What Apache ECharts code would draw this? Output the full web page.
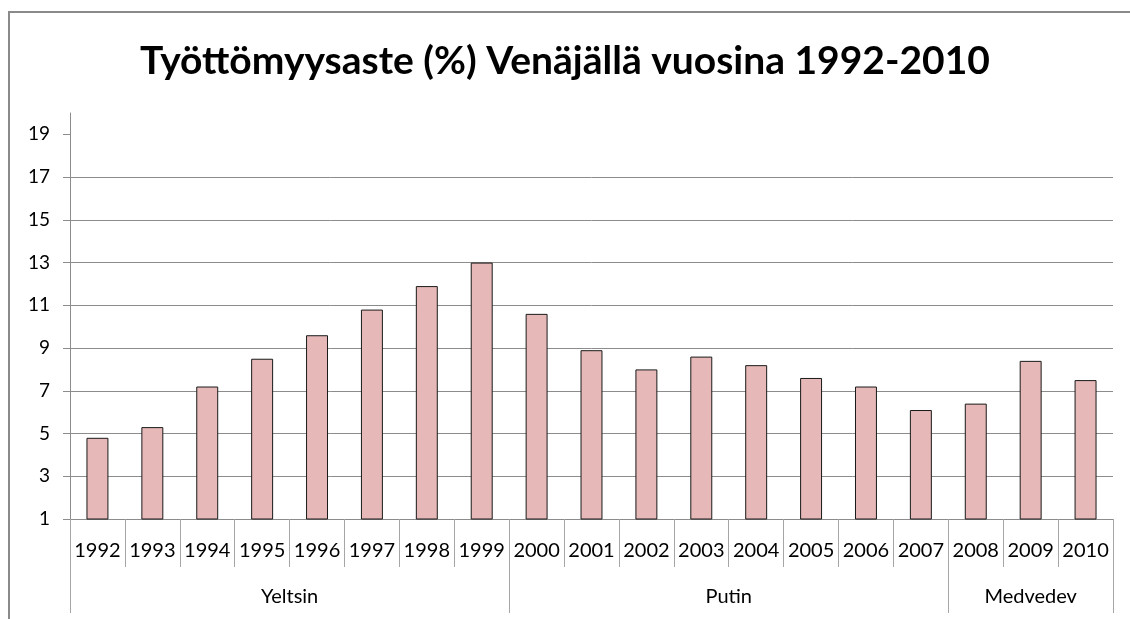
<!DOCTYPE html>
<html>
<head>
<meta charset="utf-8">
<script src="https://cdn.jsdelivr.net/npm/echarts@6/dist/echarts.min.js"></script>
<style>
  html, body { margin: 0; padding: 0; background: #fff; }
  #broken { width: 1130px; height: 619px; }
</style>
</head>
<body>
<div id="broken"></div>
<script>
  // vuodet ja työttömyysaste (%)
  var years = ['1992', '1993', '1994', '1995', '1996', '1997', '1998', '1999', '2000', '2001',
    '2002', '2003', '2004', '2005', '2006', '2007', '2008', '2009', '2010']
  var rates = [4.8, 5.3, 7.2, 8.5, 9.6, 10.8, 11.9, 13.0, 10.6, 8.9,
    8.0, 8.6, 8.2, 7.6, 7.2, 6.1, 6.4, 8.4, 7.5]
  // presidenttikaudet
  var groupNames = ['Yeltsin', 'Putin', 'Medvedev']
  var groupSizes = [8, 8, 3]
  var yTicks = [1, 3, 5, 7, 9, 11, 13, 15, 17, 19]

  // ryhmien rajat ja keskikohdat
  var bounds = [0]
  var centers = []
  groupSizes.forEach(function(n, i) {
    centers.push(bounds[i] + n / 2)
    bounds.push(bounds[i] + n)
  })

  var font = 'Lato'
  var broken = echarts.init(document.getElementById('broken'))
  var option = {
    animation: false,
    title: {
      text: 'Työttömyysaste (%) Venäjällä vuosina 1992-2010',
      left: 'center',
      top: 37,
      textStyle: {
        color: '#000',
        fontSize: 39,
        fontWeight: 'bold',
        fontFamily: font
      }
    },
    graphic: [
      {
        type: 'rect',
        shape: { x: 9, y: 12, width: 1200, height: 700 },
        style: { fill: 'none', stroke: '#8a8a8a', lineWidth: 2 },
        silent: true
      }
    ],
    grid: {
      left: 70,
      right: 17,
      top: 113,
      bottom: 100
    },
    xAxis: [
      {
        type: 'category',
        data: years,
        position: 'bottom',
        axisLine: { lineStyle: { color: '#8c8c8c' } },
        axisTick: { show: true, interval: 0, length: 48, lineStyle: { color: '#a6a6a6' } },
        axisLabel: {
          interval: 0,
          color: '#000',
          fontSize: 20,
          fontFamily: font,
          margin: 22
        },
        splitLine: { show: false }
      },
      {
        type: 'value',
        min: 0,
        max: years.length,
        position: 'bottom',
        axisLine: { show: false },
        axisTick: {
          show: true,
          length: 94,
          customValues: bounds,
          lineStyle: { color: '#a6a6a6' }
        },
        axisLabel: {
          show: true,
          customValues: centers,
          color: '#000',
          fontSize: 20,
          fontFamily: font,
          margin: 68,
          formatter: function(v) {
            var i = centers.indexOf(v)
            return i >= 0 ? groupNames[i] : ''
          }
        },
        splitLine: { show: false }
      }
    ],
    yAxis: {
      type: 'value',
      min: 1,
      max: 20,
      interval: 2,
      axisLine: { show: true, lineStyle: { color: '#8c8c8c' } },
      axisTick: {
        show: true,
        length: 7,
        customValues: yTicks,
        lineStyle: { color: '#8c8c8c' }
      },
      axisLabel: {
        color: '#000',
        fontSize: 19,
        fontFamily: font,
        margin: 20,
        customValues: yTicks
      },
      splitLine: { show: true, showMaxLine: false, lineStyle: { color: '#8c8c8c' } }
    },
    series: [
      {
        name: 'Työttömyysaste',
        type: 'bar',
        xAxisIndex: 0,
        barWidth: '40%',
        itemStyle: {
          color: '#e6b9b8',
          borderColor: '#1a1a1a',
          borderWidth: 1
        },
        data: rates
      }
    ]
  }
  broken.setOption(option)
</script>
</body>
</html>
